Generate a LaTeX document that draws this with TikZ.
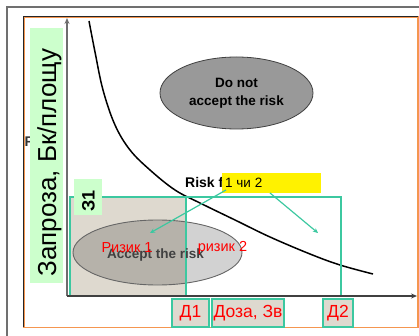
\documentclass[tikz,border=0pt]{standalone}
\usepackage{fontspec}
\setmainfont{Liberation Sans}
\usetikzlibrary{shapes.geometric,arrows.meta}

\definecolor{framegray}{RGB}{112,112,112}
\definecolor{frameorange}{RGB}{245,150,80}
\definecolor{greenlbl}{RGB}{204,255,204}
\definecolor{aqualine}{RGB}{60,200,160}
\definecolor{linencol}{RGB}{222,217,207}
\definecolor{linendark}{RGB}{182,178,170}
\definecolor{rejectfill}{RGB}{153,153,153}
\definecolor{acceptfill}{RGB}{210,210,210}
\definecolor{axisgray}{RGB}{110,110,110}

\tikzset{
  tealbox/.style={draw=aqualine, line width=1.2pt},
  pointer/.style={draw=aqualine, line width=1.2pt, -{Stealth[length=5pt,width=4.5pt]}},
  doselabel/.style={rectangle, draw=aqualine, line width=1.2pt, fill=linencol,
    text=red, font=\fontsize{17.5pt}{19pt}\selectfont, inner sep=0pt,
    minimum height=28pt},
  axisline/.style={line width=1.3pt, -{Stealth[length=6pt,width=5pt]}},
}

\begin{document}
\begin{tikzpicture}[x=1pt,y=-1pt]
\useasboundingbox (0,0) rectangle (419,336);

% page frames
\draw[framegray, line width=1.5pt] (7,336) -- (7,7) -- (419,7);
\draw[frameorange, line width=1.6pt] (24,17) rectangle (418,327.5);
\draw[black!85, line width=0.8pt] (23.5,327) -- (23.5,16.5) -- (418,16.5);

% partly hidden letter at the left edge
\node[anchor=base west, inner sep=0pt, text=black!80,
  font=\bfseries\fontsize{14pt}{16pt}\selectfont] (fmark) at (24.5,147) {F};

% vertical axis caption
\node[fill=greenlbl, minimum width=33pt, minimum height=255pt, inner sep=0pt]
  (ylabelbox) at (46.5,155.5) {};
\node[rotate=90, anchor=base, inner sep=0pt,
  font=\fontsize{26pt}{30pt}\selectfont] (ylabel) at (56,162.5) {Запроза, Бк/площу};

% risk curve
\draw[black, line width=1.5pt] plot[smooth, tension=0.6] coordinates {
  (89,21) (95,52) (103,90) (115,125) (130,150) (150,170) (175,190)
  (200,203) (235,220) (270,237) (310,254) (340,265) (373,274)};

% upper region
\node[ellipse, draw=black!75, line width=0.8pt, fill=rejectfill,
  minimum width=153pt, minimum height=72pt, inner sep=0pt, align=center,
  font=\bfseries\fontsize{13.5pt}{18pt}\selectfont] (reject) at (236.5,93)
  {Do not\\accept the risk};

% lower region
\node[ellipse, fill=acceptfill, minimum width=169pt, minimum height=65pt,
  inner sep=0pt] (accept) at (157.5,252.5) {};
\fill[linencol] (70,197) rectangle (186,296);
\begin{scope}
  \clip (70,197) rectangle (186,296);
  \fill[linendark] (accept.center) ellipse [x radius=84.5pt, y radius=32.5pt];
\end{scope}
\draw[black!60, line width=0.9pt] (accept.center) ellipse [x radius=84.5pt, y radius=32.5pt];

\draw[tealbox] (70,197) rectangle (341,296);
\draw[tealbox] (70,197) rectangle (186,296);

% axes
\coordinate (origin) at (67,296);
\coordinate (ytip) at (67,18);
\coordinate (xtip) at (417,296);
\draw[axisline, axisgray] (origin) -- (ytip);
\draw[axisline, black!75] (origin) -- (xtip);

% level marker on the vertical axis
\node[fill=greenlbl, minimum width=28pt, minimum height=36pt, inner sep=0pt]
  (zbox) at (88,197) {};
\node[rotate=90, inner sep=0pt, font=\bfseries\fontsize{18pt}{20pt}\selectfont]
  (zlabel) at (88.5,201) {З1};

% texts in the lower region
\node[anchor=base, inner sep=0pt, text=black!75,
  font=\bfseries\fontsize{13.5pt}{15pt}\selectfont] (accepttext) at (155.5,258) {Accept the risk};
\node[anchor=base, inner sep=0pt, text=red,
  font=\fontsize{14.5pt}{16pt}\selectfont] (risk1) at (127,252) {Ризик 1};
\node[anchor=base, inner sep=0pt, text=red,
  font=\fontsize{14.5pt}{16pt}\selectfont] (risk2) at (222.5,251.5) {ризик 2};

% risk caption and pointers
\node[anchor=base west, inner sep=0pt,
  font=\bfseries\fontsize{14pt}{16pt}\selectfont] (risktext) at (185,187.5) {Risk f};
\node[fill=yellow, minimum width=99pt, minimum height=20pt, inner sep=0pt]
  (choice) at (271.5,183) {};
\node[anchor=base west, inner sep=0pt, font=\fontsize{13.5pt}{15pt}\selectfont]
  (choicetext) at (225,188) {1 чи 2};
\coordinate (from1) at (226,190);
\coordinate (from2) at (270,193);
\coordinate (to1) at (150,233);
\coordinate (to2) at (318,233);
\draw[pointer] (from1) -- (to1);
\draw[pointer] (from2) -- (to2);

% dose labels
\node[doselabel, minimum width=37pt] (d1) at (190.5,313) {Д1};
\node[doselabel, minimum width=72pt] (dose) at (248,313) {Доза, Зв};
\node[doselabel, minimum width=30pt] (d2) at (338,313) {Д2};

\end{tikzpicture}
\end{document}
